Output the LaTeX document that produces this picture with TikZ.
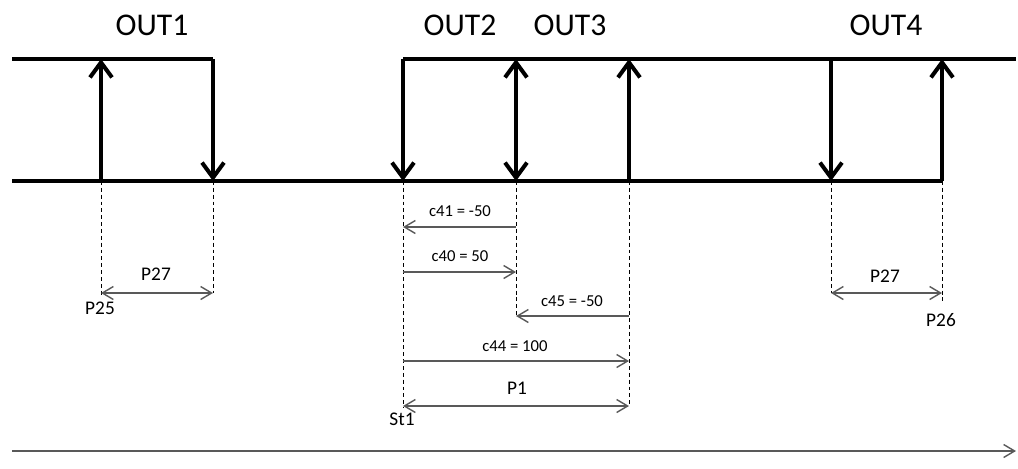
\documentclass[tikz,border=0pt]{standalone}
\usepackage{fontspec}
\setmainfont{Carlito}
\usetikzlibrary{arrows.meta}
\begin{document}
\begin{tikzpicture}[x=0.02cm, y=-0.02cm,
    level/.style={line width=2.3pt},
    edge/.style={line width=2.3pt, -{Straight Barb[length=3mm, width=4.4mm]}},
    guide/.style={line width=0.5pt, dash pattern=on 2.2pt off 1.7pt},
    dim/.style={draw=black!65, line width=0.8pt, -{Straight Barb[length=2.2mm, width=2.6mm]}},
    dimboth/.style={dim, {Straight Barb[length=2.2mm, width=2.6mm]}-{Straight Barb[length=2.2mm, width=2.6mm]}},
    outlabel/.style={font=\fontsize{18}{20}\selectfont},
    dimlabel/.style={font=\fontsize{9.5}{11}\selectfont},
    parlabel/.style={font=\fontsize{11}{13}\selectfont}]
    \useasboundingbox (0,0) rectangle (1018,468);
    % place levels and event times
    \coordinate (hiA) at (12,59);
    \coordinate (hiB) at (1016,59);
    \coordinate (loA) at (12,181);
    \coordinate (t1) at (101,181);
    \coordinate (t2) at (213,181);
    \coordinate (t3) at (403,181);
    \coordinate (t4) at (516,181);
    \coordinate (t5) at (629,181);
    \coordinate (t6) at (831,181);
    \coordinate (t7) at (942,181);
    % rows of the dimension arrows
    \coordinate (rowP27) at (0,293);
    \coordinate (rowCa) at (0,227);
    \coordinate (rowCb) at (0,272);
    \coordinate (rowCc) at (0,316);
    \coordinate (rowCd) at (0,361);
    \coordinate (rowP1) at (0,406);
    \coordinate (rowTime) at (0,451);
    % place labels
    \node [outlabel] (out1) at (152,25) {OUT1};
    \node [outlabel] (out2) at (460,25) {OUT2};
    \node [outlabel] (out3) at (570,25) {OUT3};
    \node [outlabel] (out4) at (886,25) {OUT4};
    \node [parlabel] (p27a) at (156,274) {P27};
    \node [parlabel] (p25) at (100,308) {P25};
    \node [dimlabel] (c41) at (460,211) {c41 = -50};
    \node [dimlabel] (c40) at (460,256) {c40 = 50};
    \node [dimlabel] (c45) at (572,301) {c45 = -50};
    \node [dimlabel] (c44) at (515,346) {c44 = 100};
    \node [parlabel] (p1) at (517,388) {P1};
    \node [parlabel] (st1) at (402,419) {St1};
    \node [parlabel] (p27b) at (885,276) {P27};
    \node [parlabel] (p26) at (941,320) {P26};
    % draw levels
    \draw [level] (hiA) -- (t2 |- hiA);
    \draw [level] (t3 |- hiA) -- (hiB);
    \draw [level] (loA) -- (t7);
    % draw edges
    \draw [edge] (t1) -- (t1 |- hiA);
    \draw [edge] (t2 |- hiA) -- (t2);
    \draw [edge] (t3 |- hiA) -- (t3);
    \draw [edge, {Straight Barb[length=3mm, width=4.4mm]}-{Straight Barb[length=3mm, width=4.4mm]}] (t4) -- (t4 |- hiA);
    \draw [edge] (t5) -- (t5 |- hiA);
    \draw [edge] (t6 |- hiA) -- (t6);
    \draw [edge] (t7) -- (t7 |- hiA);
    % draw guides
    \draw [guide] (t1) -- ++(0,115);
    \draw [guide] (t2) -- ++(0,112);
    \draw [guide] (t3) -- ++(0,227);
    \draw [guide] (t4) -- ++(0,137);
    \draw [guide] (t5) -- ++(0,225);
    \draw [guide] (t6) -- ++(0,112);
    \draw [guide] (t7) -- ++(0,122);
    % draw dimensions
    \draw [dimboth] (t1 |- rowP27) -- (t2 |- rowP27);
    \draw [dim] (t4 |- rowCa) -- (t3 |- rowCa);
    \draw [dim] (t3 |- rowCb) -- (t4 |- rowCb);
    \draw [dim] (t5 |- rowCc) -- (t4 |- rowCc);
    \draw [dim] (t3 |- rowCd) -- (t5 |- rowCd);
    \draw [dimboth] (t3 |- rowP1) -- (t5 |- rowP1);
    \draw [dimboth] (t6 |- rowP27) -- (t7 |- rowP27);
    \draw [dim] (loA |- rowTime) -- (hiB |- rowTime);
  \end{tikzpicture}
\end{document}
